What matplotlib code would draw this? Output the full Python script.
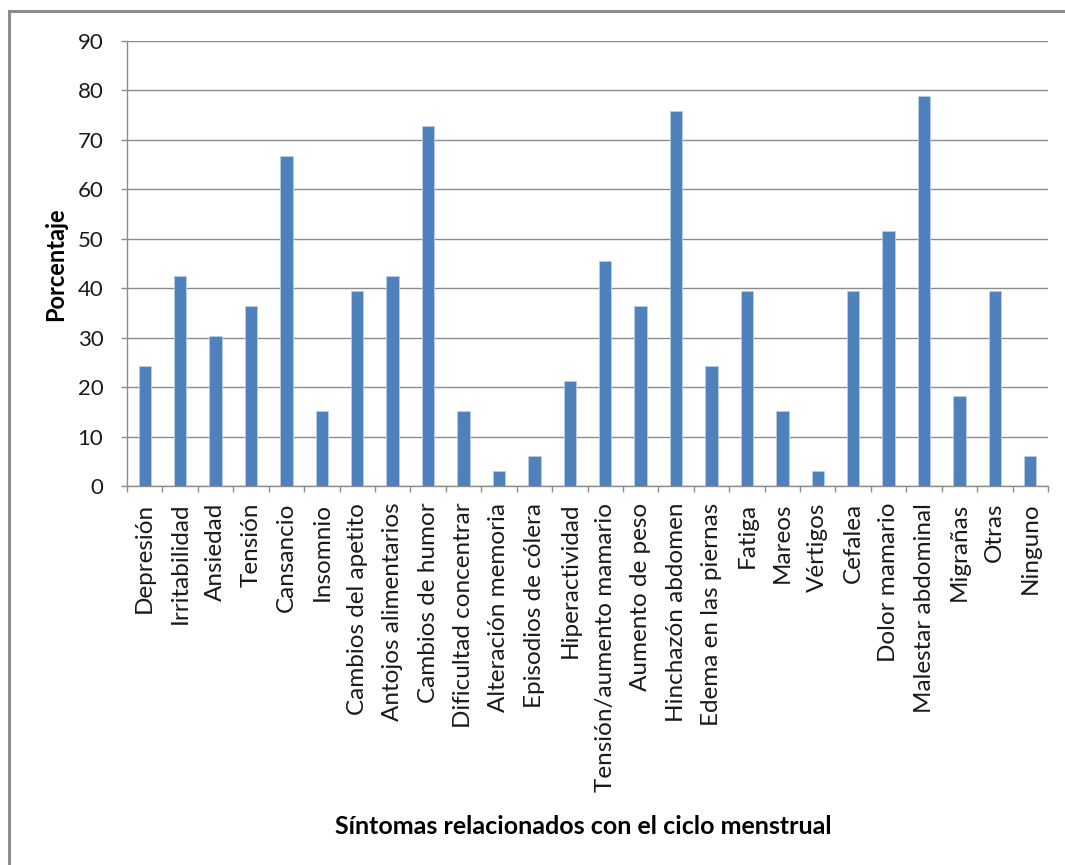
import matplotlib
matplotlib.use("Agg")
import matplotlib.pyplot as plt
from matplotlib.patches import Rectangle

# Percentage of respondents (n = 33) reporting each symptom
categories = [
    "Depresión", "Irritabilidad", "Ansiedad", "Tensión", "Cansancio",
    "Insomnio", "Cambios del apetito", "Antojos alimentarios",
    "Cambios de humor", "Dificultad concentrar", "Alteración memoria",
    "Episodios de cólera", "Hiperactividad", "Tensión/aumento mamario",
    "Aumento de peso", "Hinchazón abdomen", "Edema en las piernas",
    "Fatiga", "Mareos", "Vértigos", "Cefalea", "Dolor mamario",
    "Malestar abdominal", "Migrañas", "Otras", "Ninguno",
]
percentages = [
    24.24, 42.42, 30.30, 36.36, 66.67,
    15.15, 39.39, 42.42,
    72.73, 15.15, 3.03,
    6.06, 21.21, 45.45,
    36.36, 75.76, 24.24,
    39.39, 15.15, 3.03, 39.39, 51.52,
    78.79, 18.18, 39.39, 6.06,
]
y_ticks = [0, 10, 20, 30, 40, 50, 60, 70, 80, 90]

plt.rcParams["font.family"] = ["Lato", "DejaVu Sans"]

W, H = 1065, 865
fig = plt.figure(figsize=(W / 100, H / 100), dpi=100)
fig.patch.set_facecolor("white")

# outer chart frame
fig.patches.append(Rectangle((8.5 / W, -0.05), 1.2, 1 - 11.5 / H + 0.05,
                             transform=fig.transFigure, fill=False,
                             edgecolor="#8c8c8c", linewidth=2.2, zorder=0))

ax = fig.add_axes([127 / W, 1 - 486 / H, (1048 - 127) / W, (486 - 41) / H])

x = list(range(len(categories)))
ax.bar(x, percentages, width=0.35, color="#4F81BD",
       edgecolor="#B9CDE5", linewidth=0.6, zorder=3)

ax.set_xlim(-0.5, len(categories) - 0.5)
ax.set_ylim(0, 90)
ax.set_yticks(y_ticks)
ax.set_yticklabels([str(t) for t in y_ticks], fontsize=16, color="#1a1a1a")

# category labels centred on bars, tick marks between categories
ax.set_xticks(x)
ax.set_xticklabels(categories, rotation=90, fontsize=17.5, color="#1a1a1a")
ax.tick_params(axis="x", which="major", length=0, pad=12)
ax.set_xticks([i - 0.5 for i in range(len(categories) + 1)], minor=True)
ax.tick_params(axis="x", which="minor", length=4, width=1, color="#8c8c8c",
               direction="out")
ax.tick_params(axis="y", length=4, width=1, color="#8c8c8c",
               direction="out", pad=13)

ax.grid(axis="y", color="#8c8c8c", linewidth=1, zorder=0)
ax.set_axisbelow(True)
for side in ("top", "right"):
    ax.spines[side].set_visible(False)
for side in ("left", "bottom"):
    ax.spines[side].set_color("#8c8c8c")
    ax.spines[side].set_linewidth(1)

fig.text(56 / W, 1 - 264 / H, "Porcentaje", rotation=90,
         ha="center", va="center", fontsize=17, fontweight="bold")
fig.text(583 / W, 1 - 826 / H, "Síntomas relacionados con el ciclo menstrual",
         ha="center", va="center", fontsize=18, fontweight="bold")

fig.savefig("out.png", dpi=100, facecolor="white")
